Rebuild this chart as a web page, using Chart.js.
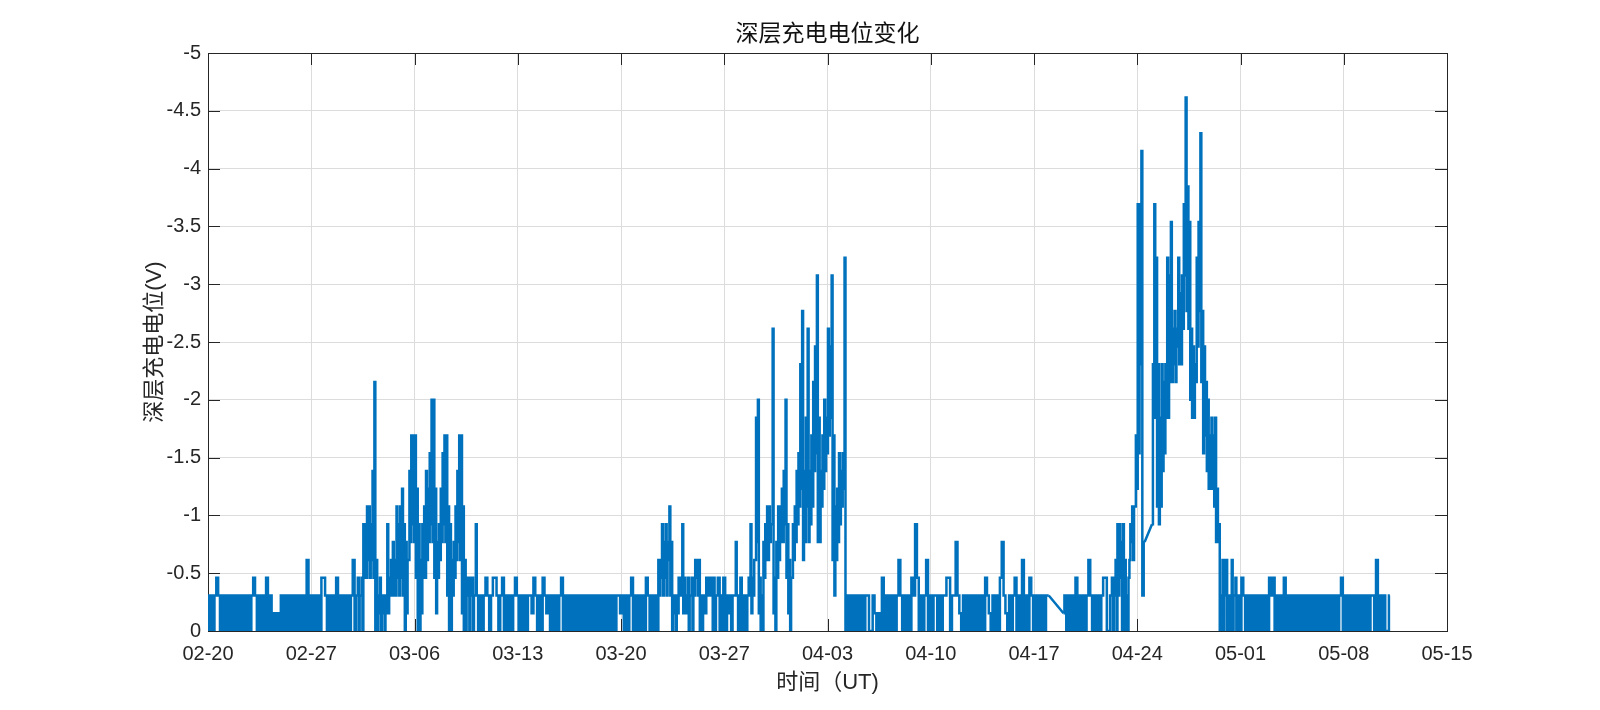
<!DOCTYPE html>
<html>
<head>
  <meta charset="utf-8">
  <title>深层充电电位变化</title>
  <style>
    body {
      margin: 0;
      background-color: #FFF;
    }

    #wrap {
      width: 1600px;
      height: 710px;
    }
  </style>
</head>
<body>
  <div id="wrap"><canvas id="chart"></canvas></div>

  <script src="https://cdn.jsdelivr.net/npm/chart.js@4"></script>

  <script>
    // Tick labels of the time axis, one every 7 days starting at 02-20
    var xTickLabels = ['02-20', '02-27', '03-06', '03-13', '03-20', '03-27', '04-03',
                       '04-10', '04-17', '04-24', '05-01', '05-08', '05-15'];

    // Readings in ADC counts, 8 slots a day (every 3 h), one array per week.
    // [a, b] = two readings inside the same slot (busy periods),
    // null = no data (bridged by a straight line, as in the original plot)
    var wk0 = [ // 02-20 .. 02-26
      2,0,2,0,2,3,2,0,
      2,0,2,0,2,0,2,0,
      2,0,2,0,2,0,2,0,
      2,3,2,0,2,0,2,0,
      3,0,2,0,1,0,1,0,
      2,0,2,0,2,0,2,0,
      2,0,2,0,2,0,4,0
    ];
    var wk1 = [ // 02-27 .. 03-05
      2,0,2,0,2,0,3,3,
      2,0,2,0,2,0,3,0,
      2,0,2,0,2,0,2,4,
      [0,2],[2,3],[0,2],[2,3],[0,6],[3,6],[3,7],[4,7],
      [3,6],[4,9],[3,14],[0,4],[0,2],[1,3],[0,2],[1,2],
      [0,2],[1,6],[1,3],[2,4],[2,5],[2,4],[2,7],[3,6],
      [2,7],[3,8],[2,6],[0,5],[1,4],[4,9],[5,11],[6,11]
    ];
    var wk2 = [ // 03-06 .. 03-12
      [5,11],[3,8],[0,6],[0,4],[1,6],[3,7],[3,9],[4,8],
      [5,10],[6,13],[5,13],[3,8],[1,5],[3,6],[4,8],[5,10],
      [6,11],[5,11],[2,7],[0,6],[0,4],[2,5],[3,7],[4,9],
      [5,11],[4,11],[1,7],[0,4],[0,3],[2,3],[0,3],[2,3],
      [0,2],[2,6],2,0,2,0,2,3,
      2,0,2,3,3,2,0,2,
      3,0,2,0,2,0,2,3
    ];
    var wk3 = [ // 03-13 .. 03-19
      2,0,2,0,2,0,2,2,
      1,3,2,0,2,0,3,2,
      1,2,0,2,0,2,0,2,
      3,0,2,0,2,0,2,0,
      2,0,2,0,2,0,2,0,
      2,0,2,0,2,0,2,0,
      2,0,2,0,2,0,2,2
    ];
    var wk4 = [ // 03-20 .. 03-26
      1,2,0,2,0,2,3,0,
      2,0,2,0,2,0,3,2,
      0,2,0,2,[0,4],[2,4],[3,6],[2,5],
      [3,6],[2,5],[4,7],[2,5],[0,2],[1,2],[0,2],[1,3],
      [2,3],[2,6],[1,3],[1,2],[1,3],[0,2],[2,3],[0,3],
      [2,4],[3,4],[2,4],[0,2],0,2,[1,3],[2,3],
      3,[2,3],[0,3],0,2,3,[0,2],0
    ];
    var wk5 = [ // 03-27 .. 04-02
      3,0,2,[1,2],0,2,[2,5],2,
      [0,2],3,0,2,0,[2,3],[2,6],[1,3],
      [2,4],[4,12],[5,13],[1,3],[0,2],[0,5],[3,6],[4,7],
      [4,7],[5,6],[6,17],[1,3],[0,5],[3,7],[4,7],[5,8],
      [5,9],[6,13],[3,6],[1,4],[0,3],[3,6],[4,7],[5,9],
      [6,10],[7,15],[8,18],[4,9],[5,12],[7,17],[5,9],[6,11],
      [7,14],[9,16],[10,20],[5,12],[5,9],[7,11],[8,13],[9,12]
    ];
    var wk6 = [ // 04-03 .. 04-09
      [10,17],[11,16],[12,20],[4,11],[2,7],[4,8],[5,10],[6,9],
      [7,10],[8,21],0,2,0,2,0,2,
      0,2,0,2,0,2,2,0,
      0,2,1,0,1,0,3,0,
      2,0,2,0,2,0,2,4,
      2,0,2,0,2,0,3,2,
      6,3,0,2,0,2,4,0
    ];
    var wk7 = [ // 04-10 .. 04-16
      2,0,2,2,0,2,0,2,
      2,3,3,0,2,2,5,2,
      1,0,2,0,2,0,2,0,
      2,0,2,0,2,0,3,2,
      1,0,2,0,2,0,3,5,
      2,1,0,2,0,2,3,0,
      2,0,4,0,2,0,3,2
    ];
    var wk8 = [ // 04-17 .. 04-23
      0,2,0,2,0,2,0,2,
      2,null,null,null,null,null,null,null,
      1,2,0,2,0,2,0,3,
      0,2,0,2,0,2,4,2,
      0,2,0,2,0,2,3,3,
      0,[0,2],[2,3],[0,3],[2,4],[0,6],[2,6],[3,5],
      [0,6],[0,4],[0,2],[0,3],[4,6],[5,7],[4,7],[7,11]
    ];
    var wk9 = [ // 04-24 .. 04-30
      [8,24],[10,24],[15,27],2,5,null,null,null,
      6,[15,24],[12,21],[7,15],[6,12],[7,15],[9,14],[10,15],
      [12,21],[12,20],[14,23],[14,17],[15,18],[14,17],[16,21],[15,19],
      [15,20],[17,24],[20,30],[18,25],[17,23],[13,17],[12,16],[12,15],
      [14,21],[16,23],[18,28],[14,18],[10,16],[11,14],[9,13],[8,11],
      [8,12],[8,11],[7,12],[5,8],[5,6],0,[2,4],[0,4],
      [2,4],[0,2],0,[2,4],[0,2],[2,3],0,2
    ];
    var wk10 = [ // 05-01 .. 05-07
      0,3,2,0,2,0,2,0,
      2,0,2,0,2,0,2,0,
      3,2,3,0,2,0,2,0,
      3,0,2,0,2,0,2,0,
      2,0,2,0,2,0,2,0,
      2,0,2,0,2,0,2,0,
      2,0,2,0,2,0,2,3
    ];
    var wk11 = [ // 05-08 .. 05-11
      0,2,0,2,0,2,0,2,
      0,2,0,2,0,2,0,2,
      2,0,4,0,2,0,2,0,
      0,2
    ];

    var VOLTS_PER_COUNT = -0.1538;
    var SAMPLES_PER_DAY = 8;
    var TICK_LEN = 12;
    var LINE_COLOR = '#0072BD';
    var LINE_WIDTH = 2.5;
    var FONT = '"Liberation Sans", "Noto Sans CJK SC", sans-serif';

    // x = days since 02-20, y = potential in volts (null where no data)
    var weeks = [wk0, wk1, wk2, wk3, wk4, wk5, wk6, wk7, wk8, wk9, wk10, wk11];
    var points = [];
    weeks.forEach(function (week, w) {
      week.forEach(function (v, i) {
        var x = w * 7 + i / SAMPLES_PER_DAY;
        if (v === null) {
          points.push({ x: x, y: null });
          return;
        }
        var readings = Array.isArray(v) ? v : [v];
        readings.forEach(function (count, k) {
          points.push({
            x: x + k / (SAMPLES_PER_DAY * readings.length),
            y: count * VOLTS_PER_COUNT
          });
        });
      });
    });

    // straight lines over the data gaps
    var gapLinks = [];
    var last = null;
    var inGap = false;
    points.forEach(function (p) {
      if (p.y === null) {
        inGap = true;
        return;
      }
      if (inGap && last) {
        gapLinks.push(last, p, { x: p.x, y: null });
      }
      inGap = false;
      last = p;
    });

    // MATLAB style box, inward ticks on all four sides, and the title
    var axesBox = {
      id: 'axesBox',
      beforeDatasetsDraw: function (chart) {
        var ctx = chart.ctx;
        var a = chart.chartArea;
        var xs = chart.scales.x;
        var ys = chart.scales.y;
        ctx.save();
        ctx.strokeStyle = '#262626';
        ctx.lineWidth = 1;
        ctx.beginPath();
        xs.ticks.forEach(function (t) {
          var px = Math.round(xs.getPixelForValue(t.value)) + 0.5;
          ctx.moveTo(px, a.bottom);
          ctx.lineTo(px, a.bottom - TICK_LEN);
          ctx.moveTo(px, a.top);
          ctx.lineTo(px, a.top + TICK_LEN);
        });
        ys.ticks.forEach(function (t) {
          var py = Math.round(ys.getPixelForValue(t.value)) + 0.5;
          ctx.moveTo(a.left, py);
          ctx.lineTo(a.left + TICK_LEN, py);
          ctx.moveTo(a.right, py);
          ctx.lineTo(a.right - TICK_LEN, py);
        });
        ctx.stroke();
        ctx.strokeRect(Math.round(a.left) + 0.5, Math.round(a.top) + 0.5,
                       Math.round(a.right - a.left), Math.round(a.bottom - a.top));

        ctx.fillStyle = '#111';
        ctx.font = '23px ' + FONT;
        ctx.textAlign = 'center';
        ctx.textBaseline = 'middle';
        ctx.fillText('深层充电电位变化', (a.left + a.right) / 2, 35);
        ctx.restore();
      }
    };

    new Chart(document.getElementById('chart').getContext('2d'), {
      type: 'line',
      data: {
        datasets: [{
          label: '深层充电电位',
          data: points,
          borderColor: LINE_COLOR,
          borderWidth: LINE_WIDTH,
          pointRadius: 0,
          fill: false,
          stepped: 'middle',
          spanGaps: false
        }, {
          label: 'gap',
          data: gapLinks,
          borderColor: LINE_COLOR,
          borderWidth: LINE_WIDTH,
          pointRadius: 0,
          fill: false,
          tension: 0,
          spanGaps: false
        }]
      },
      options: {
        responsive: true,
        maintainAspectRatio: false,
        animation: false,
        layout: { padding: { left: 0, right: 153, top: 53, bottom: 0 } },
        plugins: {
          legend: { display: false },
          tooltip: { enabled: false },
          title: { display: false }
        },
        scales: {
          x: {
            type: 'linear',
            min: 0,
            max: 84,
            afterFit: function (scale) { scale.height = 79; },
            grid: { color: '#dcdcdc', drawTicks: false },
            border: { display: false },
            ticks: {
              stepSize: 7,
              autoSkip: false,
              maxRotation: 0,
              padding: 11,
              color: '#262626',
              font: { family: FONT, size: 20 },
              callback: function (value) { return xTickLabels[Math.round(value / 7)]; }
            },
            title: {
              display: true,
              text: '时间（UT)',
              color: '#262626',
              font: { family: FONT, size: 22, lineHeight: 1.2 },
              padding: { top: 0, bottom: 14 }
            }
          },
          y: {
            reverse: true,
            min: -5,
            max: 0,
            afterFit: function (scale) { scale.width = 208; },
            grid: { color: '#dcdcdc', drawTicks: false },
            border: { display: false },
            ticks: {
              stepSize: 0.5,
              padding: 7,
              color: '#262626',
              font: { family: FONT, size: 20 },
              callback: function (value) { return String(Number(value.toFixed(1))); }
            },
            title: {
              display: true,
              text: '深层充电电位(V)',
              color: '#262626',
              font: { family: FONT, size: 22, lineHeight: 1.2 },
              padding: { top: 142, bottom: 0 }
            }
          }
        }
      },
      plugins: [axesBox]
    });
  </script>
</body>
</html>
